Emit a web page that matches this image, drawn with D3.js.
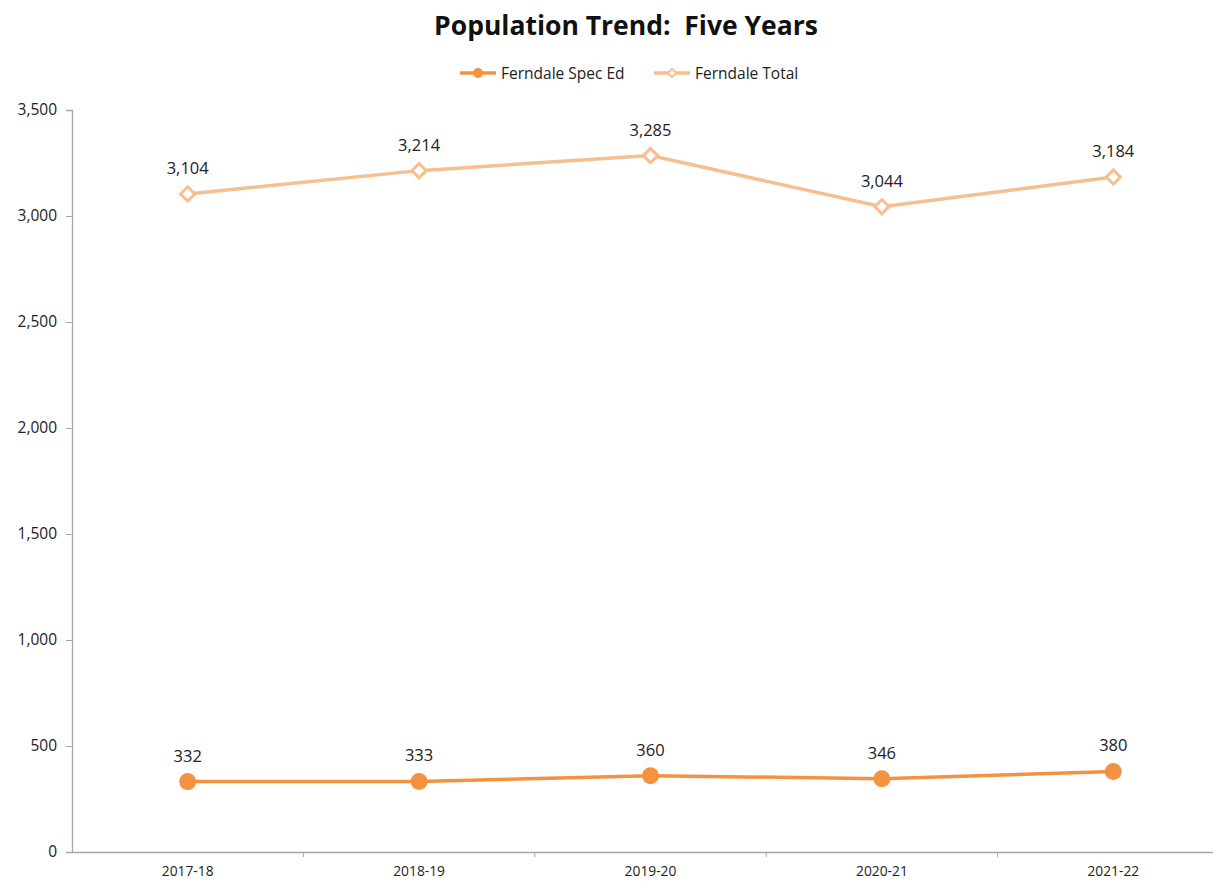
<!DOCTYPE html>
<html><head><meta charset="utf-8">
<script src="https://cdn.jsdelivr.net/npm/d3@7"></script>
<style>body{margin:0;background:#fff}svg{display:block}</style>
</head><body>
<svg id="c" width="1213" height="881"></svg>
<script>
const categories = ["2017-18","2018-19","2019-20","2020-21","2021-22"];
const specEd = [332,333,360,346,380];
const total = [3104,3214,3285,3044,3184];
const yTicks = [0,500,1000,1500,2000,2500,3000,3500];
const seriesNames = ["Ferndale Spec Ed","Ferndale Total"];

const svg = d3.select("#c");
const font = "'Open Sans', 'DejaVu Sans', sans-serif";
const cSpec = "#f39240", cTot = "#f6bf8f";
const x = d3.scaleBand().domain(categories).range([72,1229]);
const y = d3.scaleLinear().domain([0,3500]).range([852,110]);
const fmt = d3.format(",");

svg.append("text").attr("x",626).attr("y",35).attr("text-anchor","middle")
  .attr("xml:space","preserve").style("white-space","pre")
  .attr("font-family",font).attr("font-weight","bold").attr("font-size",26.5).attr("fill","#111")
  .text("Population Trend:  Five Years");

// y axis
const ya = svg.append("g").attr("transform","translate(72,0)")
  .call(d3.axisLeft(y).tickValues(yTicks).tickFormat(fmt).tickSize(6).tickPadding(9));
ya.select(".domain").attr("stroke","#a6a6a6").attr("stroke-width",1.3);
ya.selectAll(".tick line").attr("stroke","#a6a6a6");
ya.selectAll("text").attr("font-family",font).attr("font-size",15.5).attr("fill","#222");

// x axis
const xa = svg.append("g").attr("transform","translate(0,852)")
  .call(d3.axisBottom(x).tickSize(0).tickPadding(14));
xa.select(".domain").attr("stroke","#a6a6a6").attr("stroke-width",1.3);
xa.selectAll("text").attr("font-family",font).attr("font-size",13.8).attr("fill","#222");
xa.selectAll(".bnd").data(categories.slice(1)).enter().append("line")
  .attr("x1",d=>x(d)).attr("x2",d=>x(d)).attr("y1",0).attr("y2",5).attr("stroke","#a6a6a6");

const cx = d => x(d) + x.bandwidth()/2;
const line = d3.line().x((d,i)=>cx(categories[i])).y(d=>y(d));

// total
svg.append("path").datum(total).attr("d",line).attr("fill","none").attr("stroke",cTot).attr("stroke-width",3.5);
const diamond = d3.symbol().type(d3.symbolDiamond2).size(130);
svg.selectAll(".td").data(total).enter().append("path")
  .attr("d",diamond).attr("transform",(d,i)=>`translate(${cx(categories[i])},${y(d)})`)
  .attr("fill","#fff").attr("stroke",cTot).attr("stroke-width",3);
svg.selectAll(".tl").data(total).enter().append("text")
  .attr("x",(d,i)=>cx(categories[i])).attr("y",d=>y(d)-20).attr("text-anchor","middle")
  .attr("font-family",font).attr("font-size",16.5).attr("fill","#222").text(fmt);

// spec ed
svg.append("path").datum(specEd).attr("d",line).attr("fill","none").attr("stroke",cSpec).attr("stroke-width",3.5);
svg.selectAll(".sd").data(specEd).enter().append("circle")
  .attr("cx",(d,i)=>cx(categories[i])).attr("cy",d=>y(d)).attr("r",8.5).attr("fill",cSpec);
svg.selectAll(".sl").data(specEd).enter().append("text")
  .attr("x",(d,i)=>cx(categories[i])).attr("y",d=>y(d)-20).attr("text-anchor","middle")
  .attr("font-family",font).attr("font-size",16.5).attr("fill","#222").text(fmt);

// legend
const lg = svg.append("g");
const items = [{n:seriesNames[0],x:460,c:cSpec,t:"c"},{n:seriesNames[1],x:654,c:cTot,t:"d"}];
items.forEach(it=>{
  lg.append("line").attr("x1",it.x).attr("x2",it.x+36).attr("y1",73).attr("y2",73).attr("stroke",it.c).attr("stroke-width",3.5);
  if(it.t==="c") lg.append("circle").attr("cx",it.x+18).attr("cy",73).attr("r",5).attr("fill",it.c);
  else lg.append("path").attr("d",d3.symbol().type(d3.symbolDiamond2).size(45)).attr("transform",`translate(${it.x+18},73)`).attr("fill","#fff").attr("stroke",it.c).attr("stroke-width",2);
  lg.append("text").attr("x",it.x+41).attr("y",79).attr("font-family",font).attr("font-size",15.5).attr("fill","#222").text(it.n);
});
</script>
</body></html>
